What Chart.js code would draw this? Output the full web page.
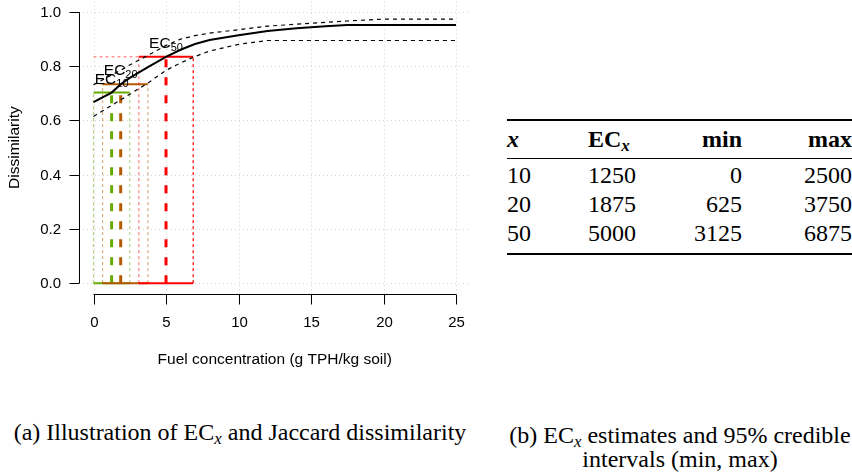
<!DOCTYPE html>
<html>
<head>
<meta charset="utf-8">
<script src="https://cdn.jsdelivr.net/npm/chart.js@4.4.1/dist/chart.umd.min.js"></script>
<style>
    html, body { margin: 0; padding: 0; background: #fff; }
    body { width: 852px; height: 475px; overflow: hidden; position: relative; font-family: "Liberation Serif", "Times New Roman", serif; color: #000; }
    #wrap { position: absolute; left: 0; top: 0; width: 480px; height: 380px; }
    table.ec { position: absolute; left: 507px; top: 119px; width: 365px; table-layout: fixed; border-collapse: collapse; font-size: 24px; }
    table.ec td, table.ec th { padding: 0; line-height: 29px; white-space: nowrap; }
    table.ec th { font-weight: bold; height: 37px; border-top: 2px solid #000; border-bottom: 1.2px solid #000; }
    table.ec .c1 { width: 81px; text-align: left; }
    table.ec .c2 { width: 80px; text-align: left; }
    table.ec .c3 { width: 74px; text-align: right; }
    table.ec .c4 { width: 110px; text-align: right; padding-right: 20px; }
    table.ec tbody tr:first-child td { padding-top: 2px; }
    table.ec tbody tr:last-child td { padding-bottom: 5px; border-bottom: 2px solid #000; }
    sub { font-size: 70%; vertical-align: -0.25em; line-height: 0; }
    .cap { position: absolute; font-size: 24px; text-align: center; line-height: 24px; white-space: nowrap; }
</style>
</head>
<body>
<div id="wrap"><canvas id="ecChart" width="480" height="380"></canvas></div>

<table class="ec">
    <thead>
        <tr><th class="c1"><i>x</i></th><th class="c2">EC<sub><i>x</i></sub></th><th class="c3">min</th><th class="c4">max</th></tr>
    </thead>
    <tbody id="ecRows"></tbody>
</table>

<div class="cap" style="left:0px; width:480px; top:420px;">(a) Illustration of EC<sub><i>x</i></sub> and Jaccard dissimilarity</div>
<div class="cap" style="left:430px; width:500px; top:423px;">(b) EC<sub><i>x</i></sub>&nbsp;estimates and 95% credible<br>intervals (min, max)</div>

<script>
// fitted curve and credible band (g TPH/kg soil vs. dissimilarity)
const concX = [0, 1.25, 1.875, 2.5, 3.75, 5, 6, 7, 8, 10, 12, 14, 16, 17.5, 20, 25];
const fitY = [0.668, 0.703, 0.734, 0.757, 0.797, 0.835, 0.861, 0.882, 0.897, 0.914, 0.93, 0.94, 0.948, 0.952, 0.952, 0.952];
const upperY = [0.732, 0.768, 0.785, 0.805, 0.84, 0.877, 0.9, 0.913, 0.922, 0.935, 0.948, 0.955, 0.962, 0.967, 0.974, 0.974];
const lowerY = [0.615, 0.656, 0.676, 0.697, 0.738, 0.785, 0.812, 0.836, 0.856, 0.881, 0.895, 0.895, 0.895, 0.895, 0.895, 0.895];

// EC estimates (x = 10, 20, 50), in mg/kg for the table, plotted in g/kg
const ecLevels = [10, 20, 50];
const ecValue = [1250, 1875, 5000];
const ecMin = [0, 625, 3125];
const ecMax = [2500, 3750, 6875];
const ecY = [0.703, 0.734, 0.835];

const xTicks = [0, 5, 10, 15, 20, 25];
const yTicks = [0, 0.2, 0.4, 0.6, 0.8, 1.0];

const ecColors = ["rgb(102,170,0)", "rgb(179,89,0)", "rgb(255,0,0)"];
const ecLight = ["rgba(102,170,0,0.5)", "rgba(179,89,0,0.5)", "rgba(255,0,0,0.5)"];

// table rows
const rows = document.getElementById("ecRows");
ecLevels.forEach((lv, i) => {
    const tr = document.createElement("tr");
    [lv, ecValue[i], ecMin[i], ecMax[i]].forEach((v, j) => {
        const td = document.createElement("td");
        td.className = "c" + (j + 1);
        td.textContent = v;
        tr.appendChild(td);
    });
    rows.appendChild(tr);
});

function line(xs, ys, color, width, dash, order) {
    return {
        data: xs.map((x, i) => ({ x: x, y: ys[i] })),
        showLine: true,
        borderColor: color,
        borderWidth: width,
        borderDash: dash,
        pointRadius: 0,
        tension: 0,
        fill: false,
        order: order,
    };
}

const datasets = [
    line(concX, fitY, "#000", 2, [], 1),
    line(concX, upperY, "#000", 1.2, [4, 4], 1),
    line(concX, lowerY, "#000", 1.2, [4, 4], 1),
];

ecLevels.forEach((lv, i) => {
    const c = ecValue[i] / 1000, lo = ecMin[i] / 1000, hi = ecMax[i] / 1000, y = ecY[i];
    const ord = 10 - i;
    if (lo > 0) datasets.push(line([0, lo], [y, y], ecLight[i], 1.2, [3, 3], ord));
    datasets.push(line([lo, hi], [y, y], ecColors[i], 2, [], ord));
    datasets.push(line([lo, hi], [0, 0], ecColors[i], 2, [], ord));
    datasets.push(line([lo, lo], [0, y], ecLight[i], 1.2, [3, 3], ord));
    datasets.push(line([hi, hi], [0, y], i === 2 ? ecColors[i] : ecLight[i], 1.2, [3, 3], ord));
    datasets.push(line([c, c], [0, y], ecColors[i], 3, [8, 10], ord));
});

const sansFont = '"Liberation Sans", Arial, sans-serif';

const axesPlugin = {
    id: "rAxes",
    beforeDatasetsDraw(chart) {
        const { ctx, chartArea: a, scales: { x, y } } = chart;
        ctx.save();
        ctx.strokeStyle = "#d3d3d3";
        ctx.lineWidth = 1;
        ctx.setLineDash([1, 3]);
        xTicks.forEach((t) => {
            const px = Math.round(x.getPixelForValue(t)) + 0.5;
            ctx.beginPath(); ctx.moveTo(px, a.top); ctx.lineTo(px, a.bottom); ctx.stroke();
        });
        yTicks.forEach((t) => {
            const py = Math.round(y.getPixelForValue(t)) + 0.5;
            ctx.beginPath(); ctx.moveTo(a.left, py); ctx.lineTo(a.right, py); ctx.stroke();
        });
        ctx.restore();
    },
    afterDatasetsDraw(chart) {
        const { ctx, chartArea: a, scales: { x, y } } = chart;
        ctx.save();
        ctx.strokeStyle = "#000";
        ctx.fillStyle = "#000";
        ctx.lineWidth = 1;
        ctx.setLineDash([]);

        // y axis
        const ax = Math.round(a.left) + 0.5;
        ctx.beginPath();
        ctx.moveTo(ax, y.getPixelForValue(yTicks[0]));
        ctx.lineTo(ax, y.getPixelForValue(yTicks[yTicks.length - 1]));
        ctx.stroke();
        ctx.font = "15px " + sansFont;
        ctx.textAlign = "right";
        ctx.textBaseline = "middle";
        yTicks.forEach((t) => {
            const py = Math.round(y.getPixelForValue(t)) + 0.5;
            ctx.beginPath(); ctx.moveTo(ax, py); ctx.lineTo(ax - 10, py); ctx.stroke();
            ctx.fillText(t.toFixed(1), 61, py);
        });

        // x axis
        const ay = Math.round(a.bottom) + 0.5;
        ctx.beginPath();
        ctx.moveTo(x.getPixelForValue(xTicks[0]), ay);
        ctx.lineTo(x.getPixelForValue(xTicks[xTicks.length - 1]), ay);
        ctx.stroke();
        ctx.textAlign = "center";
        xTicks.forEach((t) => {
            const px = Math.round(x.getPixelForValue(t)) + 0.5;
            ctx.beginPath(); ctx.moveTo(px, ay); ctx.lineTo(px, ay + 10); ctx.stroke();
            ctx.fillText(String(t), px, 323);
        });

        // titles
        ctx.font = "15.5px " + sansFont;
        ctx.fillText("Fuel concentration (g TPH/kg soil)", x.getPixelForValue(12.5), 360);
        ctx.save();
        ctx.translate(15, y.getPixelForValue(0.5));
        ctx.rotate(-Math.PI / 2);
        ctx.fillText("Dissimilarity", 0, 0);
        ctx.restore();

        // EC labels
        ctx.textBaseline = "alphabetic";
        ctx.textAlign = "left";
        ecLevels.forEach((lv, i) => {
            const px = x.getPixelForValue(ecValue[i] / 1000);
            const py = y.getPixelForValue(ecY[i]) - 9;
            ctx.font = "15.5px " + sansFont;
            const w1 = ctx.measureText("EC").width;
            ctx.font = "11px " + sansFont;
            const w2 = ctx.measureText(String(lv)).width;
            const x0 = px - (w1 + w2) / 2;
            ctx.font = "15.5px " + sansFont;
            ctx.fillText("EC", x0, py);
            ctx.font = "11px " + sansFont;
            ctx.fillText(String(lv), x0 + w1, py + 3);
        });
        ctx.restore();
    },
};

const ecChart = new Chart(document.getElementById("ecChart"), {
    type: "scatter",
    data: { datasets: datasets },
    options: {
        responsive: false,
        animation: false,
        events: [],
        layout: { padding: { left: 79, right: 9.5, top: 1.2, bottom: 86 } },
        scales: {
            x: { type: "linear", min: -1, max: 26, display: false },
            y: { type: "linear", min: -0.04, max: 1.04, display: false },
        },
        plugins: { legend: { display: false }, tooltip: { enabled: false } },
    },
    plugins: [axesPlugin],
});
</script>
</body>
</html>
